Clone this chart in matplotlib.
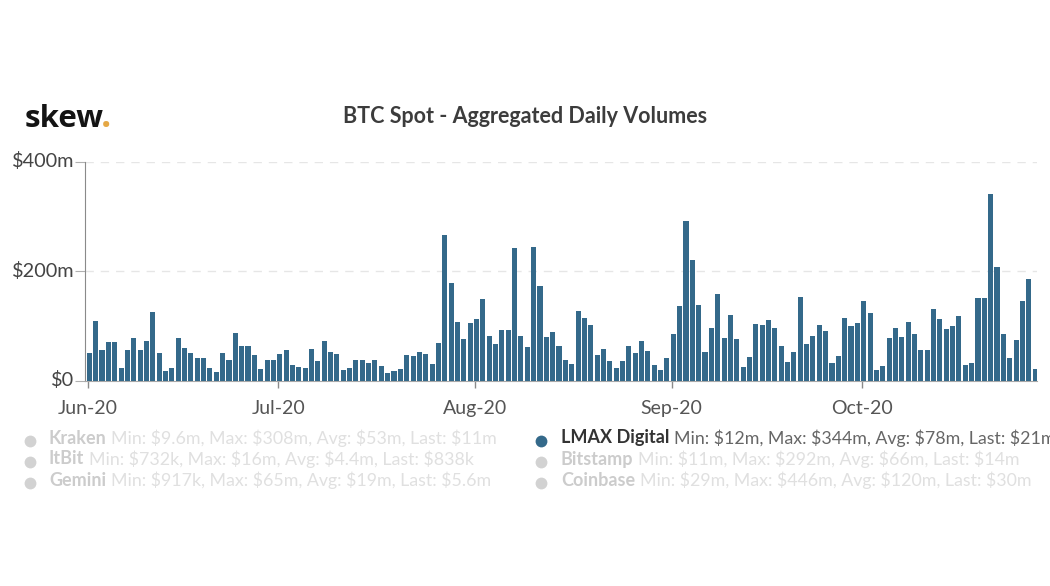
import matplotlib
matplotlib.use("Agg")
import matplotlib.pyplot as plt
from matplotlib.lines import Line2D
from matplotlib.transforms import ScaledTranslation
import pandas as pd

plt.rcParams['font.family'] = ['Lato', 'DejaVu Sans']
plt.rcParams['text.parse_math'] = False

W, H = 1050, 586

# LMAX Digital daily volumes, $m
volumes = [
    51, 109, 56, 70, 70, 23, 56, 78, 55, 73, 126, 51, 18, 22, 77, 60, 51, 41, 41, 23,
    15, 51, 37, 87, 63, 63, 47, 21, 38, 38, 48, 56, 28, 24, 23, 57, 35, 73, 52, 49,
    20, 23, 38, 38, 32, 38, 27, 13, 18, 21, 47, 44, 52, 48, 31, 68, 266, 178, 107, 76,
    105, 112, 149, 82, 66, 92, 93, 243, 82, 61, 244, 173, 79, 89, 63, 37, 30, 127, 115, 102,
    47, 58, 35, 23, 35, 63, 51, 73, 54, 28, 20, 42, 85, 137, 292, 221, 138, 52, 97, 159,
    77, 120, 76, 24, 43, 104, 101, 110, 97, 64, 33, 52, 152, 67, 82, 101, 90, 32, 44, 115,
    100, 106, 146, 123, 20, 26, 77, 96, 80, 107, 86, 55, 56, 131, 113, 95, 100, 118, 29, 32,
    151, 151, 342, 208, 85, 41, 74, 145, 185, 21,
]
dates = pd.date_range("2020-06-01", periods=len(volumes), freq="D")

tick_dates = pd.to_datetime(["2020-06-01", "2020-07-01", "2020-08-01", "2020-09-01", "2020-10-01"])
tick_labels = ["Jun-20", "Jul-20", "Aug-20", "Sep-20", "Oct-20"]
y_ticks = [0, 200, 400]
y_labels = ["$0", "$200m", "$400m"]

legend_names = ["Kraken", "ItBit", "Gemini", "LMAX Digital", "Bitstamp", "Coinbase"]
legend_stats = [
    "Min: $9.6m, Max: $308m, Avg: $53m, Last: $11m",
    "Min: $732k, Max: $16m, Avg: $4.4m, Last: $838k",
    "Min: $917k, Max: $65m, Avg: $19m, Last: $5.6m",
    "Min: $12m, Max: $344m, Avg: $78m, Last: $21m",
    "Min: $11m, Max: $292m, Avg: $66m, Last: $14m",
    "Min: $29m, Max: $446m, Avg: $120m, Last: $30m",
]
active = "LMAX Digital"

bar_color = "#34698a"
axis_color = "#8a8a8a"
label_color = "#555555"


def fx(px):
    return px / W


def fy(py):
    return 1 - py / H


fig = plt.figure(figsize=(W / 100, H / 100), dpi=100, facecolor="white")
ax = fig.add_axes([fx(85), fy(380.5), (1037 - 85) / W, (380.5 - 162) / H])

ax.bar(dates, volumes, width=0.8, color=bar_color, zorder=3)

ax.set_xlim(dates[0] - pd.Timedelta(days=0.68), dates[-1] + pd.Timedelta(days=0.3))
ax.set_ylim(0, 400)

ax.spines["top"].set_visible(False)
ax.spines["right"].set_visible(False)
ax.spines["left"].set_color(axis_color)
ax.spines["bottom"].set_color("#a8a8a8")

ax.set_yticks(y_ticks)
ax.set_yticklabels(y_labels, fontsize=14.3, color="#444444")
ax.tick_params(axis="y", length=7, width=0.8, color="#b0b0b0", pad=0.5)
for lab in ax.get_yticklabels():
    lab.set_transform(lab.get_transform() + ScaledTranslation(0, 1.5 / 72, fig.dpi_scale_trans))

# the ticks sit a little left of the day bars in the original
ax.set_xticks(tick_dates - pd.Timedelta(hours=6))
ax.set_xticklabels(tick_labels, fontsize=14, color=label_color)
ax.tick_params(axis="x", length=5, width=1.0, color=axis_color, pad=9)

ax.grid(axis="y", color="#e6e6e6", linestyle=(0, (6, 5)), linewidth=1.0, zorder=0)
ax.set_axisbelow(True)

fig.text(fx(525), fy(116), "BTC Spot - Aggregated Daily Volumes", fontsize=15.5, color="#3c3c3c",
         fontweight="bold", ha="center", va="center")

# logo
logo = fig.text(fx(25), fy(127), "skew", fontsize=22.5, fontweight="bold", color="#141414",
                family=["Open Sans", "DejaVu Sans"], ha="left", va="baseline")
fig.canvas.draw()
renderer = fig.canvas.get_renderer()
logo_end = logo.get_window_extent(renderer).x1
fig.text((logo_end - 3) / W, fy(127), ".", fontsize=26, fontweight="bold", color="#e5a845",
         family=["Open Sans", "DejaVu Sans"], ha="left", va="baseline")

# legend, two columns of three rows
col_x = [30, 541]
text_x = [49, 561]
row_y = [438, 459, 480]
for i, (name, stats) in enumerate(zip(legend_names, legend_stats)):
    col = i // 3
    row = i % 3
    on = name == active
    fig.add_artist(Line2D([fx(col_x[col])], [fy(row_y[row] + 2.5)], marker="o", markersize=8.5,
                          color=bar_color if on else "#d2d2d2", transform=fig.transFigure,
                          linestyle="none", markeredgewidth=0))
    t1 = fig.text(fx(text_x[col]), fy(row_y[row]), name, fontsize=13, fontweight="bold",
                  color="#333333" if on else "#cccccc", ha="left", va="center")
    x1 = t1.get_window_extent(renderer).x1
    fig.text((x1 + 4.5) / W, fy(row_y[row]), stats, fontsize=12.75,
             color="#666666" if on else "#e0e0e0", ha="left", va="center")

fig.savefig("out.png", dpi=100, facecolor="white")
